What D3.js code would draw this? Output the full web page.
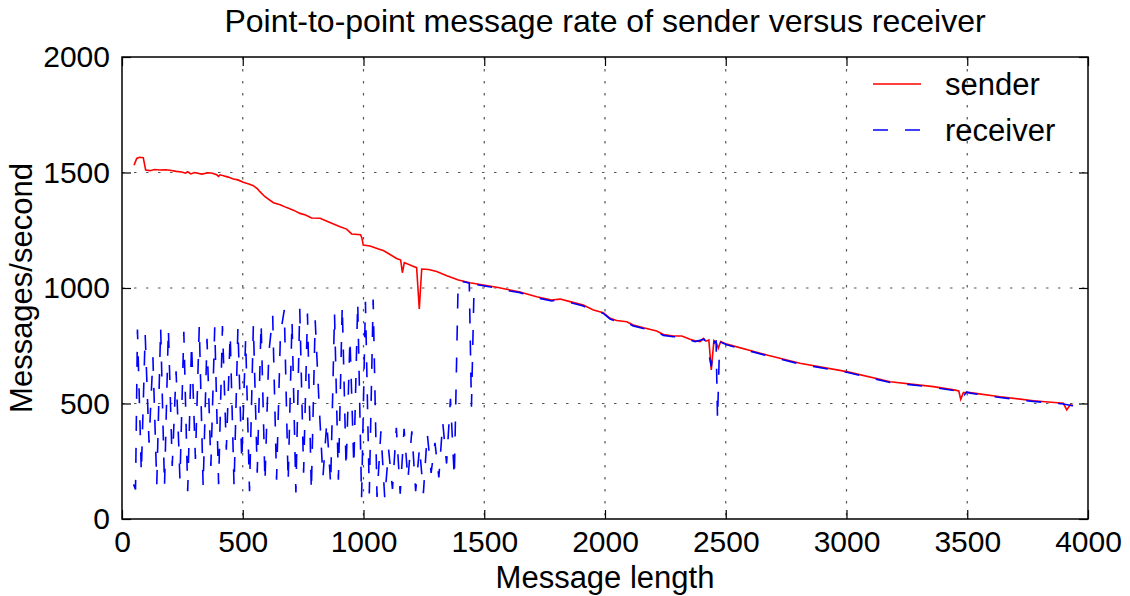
<!DOCTYPE html>
<html>
<head>
    <meta charset="utf-8">
    <title>Point-to-point message rate</title>
    <script src="https://d3js.org/d3.v7.min.js"></script>
    <style>
        body { margin: 0; background: #fff; }
        svg { font-family: "Liberation Sans", Arial, sans-serif; }
        .grid line { stroke: #555; stroke-width: 1.2; stroke-dasharray: 2.5, 9.5; }
        .axis text { font-size: 30px; fill: #000; }
        .axis line { stroke: #000; stroke-width: 1.2; }
        .axis path { display: none; }
    </style>
</head>
<body>
<div id="chart"></div>
<script>
// tick values
const xTicks = [0, 500, 1000, 1500, 2000, 2500, 3000, 3500, 4000];
const yTicks = [0, 500, 1000, 1500, 2000];

// sender: [message length, messages/second]
const senderData = [
    [50,1532],[61,1561],[72,1566],[88,1564],[98,1511],[116,1508],[135,1513],[157,1511],
    [180,1512],[199,1510],[225,1505],[247,1502],[263,1497],[272,1503],[285,1494],[300,1500],
    [330,1493],[357,1499],[375,1497],[392,1490],[400,1483],[406,1490],[420,1486],[440,1480],
    [461,1472],[480,1468],[502,1458],[525,1450],[544,1443],[560,1430],[571,1417],[592,1395],
    [627,1369],[655,1360],[682,1348],[710,1337],[737,1323],[760,1316],[785,1303],[820,1302],
    [861,1284],[903,1265],[930,1255],[951,1234],[988,1231],[993,1218],[999,1186],[1027,1182],
    [1068,1167],[1082,1162],[1110,1145],[1137,1128],[1154,1121],[1161,1066],[1169,1110],[1200,1096],
    [1220,1088],[1231,909],[1241,1082],[1270,1080],[1303,1071],[1345,1053],[1393,1035],[1441,1023],
    [1496,1013],[1552,1003],[1607,991],[1648,983],[1717,962],[1779,948],[1814,952],[1855,941],
    [1910,926],[1952,905],[1993,893],[2021,869],[2048,859],[2090,854],[2117,840],[2159,828],
    [2214,814],[2242,799],[2283,792],[2318,792],[2352,778],[2373,772],[2394,768],[2407,782],
    [2418,770],[2430,775],[2440,645],[2451,772],[2462,760],[2469,739],[2479,768],[2504,757],
    [2670,710],[2807,674],[3001,638],[3181,594],[3360,573],[3450,558],[3465,554],[3473,518],
    [3484,547],[3512,547],[3636,529],[3774,512],[3898,501],[3912,472],[3926,494],[3938,492]
];

// receiver: [message length, messages/second]
const receiverData = [
    [48,150],[56,128],[64,820],[80,200],[96,800],[112,330],[128,700],[144,150],
    [160,830],[176,140],[192,825],[208,230],[224,640],[240,170],[256,810],[272,120],
    [288,760],[304,260],[320,835],[336,140],[352,780],[368,230],[384,830],[400,150],
    [416,835],[432,300],[448,800],[464,140],[480,830],[496,250],[512,780],[528,120],
    [544,840],[560,200],[576,850],[592,160],[608,720],[624,880],[640,170],[656,800],
    [672,905],[688,160],[704,860],[720,115],[736,910],[752,200],[768,890],[784,120],
    [800,860],[816,500],[832,180],[848,420],[864,150],[880,890],[896,170],[912,925],
    [928,220],[944,780],[960,230],[976,940],[992,91],[1008,940],[1024,110],[1040,950],
    [1056,95],[1072,380],[1088,90],[1104,300],[1120,130],[1136,395],[1152,110],[1168,390],
    [1184,170],[1200,380],[1216,120],[1232,310],[1248,112],[1264,370],[1280,200],[1296,330],
    [1312,180],[1328,420],[1344,240],[1360,520],[1376,180],[1392,1030],
    [1408,1028],[1424,1025],[1438,1021],[1447,486],[1458,1016],
    [1496,1010],[1552,1000],[1607,987],[1648,980],[1717,958],[1779,944],[1814,949],[1855,937],
    [1910,922],[1952,902],[1993,890],[2021,866],[2048,855],[2090,851],[2117,836],[2159,825],
    [2214,810],[2242,795],[2283,789],[2318,789],[2352,775],[2373,768],[2394,774],[2410,778],
    [2420,752],[2432,705],[2440,660],[2452,768],[2460,770],[2466,430],[2474,745],[2480,765],
    [2504,754],[2670,707],[2807,671],[3001,635],[3181,591],[3360,570],[3450,555],[3462,546],
    [3470,530],[3478,548],[3488,538],[3498,550],[3512,545],[3636,526],[3774,509],[3898,498],
    [3930,491],[3967,486]
];

const W = 1130, H = 596;
const margin = {top: 57, right: 42, bottom: 77, left: 122};
const width = W - margin.left - margin.right;
const height = H - margin.top - margin.bottom;

const svg = d3.select("#chart")
    .append("svg")
    .attr("width", W)
    .attr("height", H);

const g = svg.append("g")
    .attr("transform", `translate(${margin.left},${margin.top})`);

const x = d3.scaleLinear().domain([0, 4000]).range([0, width]);
const y = d3.scaleLinear().domain([0, 2000]).range([height, 0]);
const fmt = d3.format("d");

// grid
const grid = g.append("g").attr("class", "grid");
grid.selectAll(".gx")
    .data(xTicks.slice(1, -1))
    .enter().append("line")
    .attr("x1", d => x(d)).attr("x2", d => x(d))
    .attr("y1", 0).attr("y2", height);
grid.selectAll(".gy")
    .data(yTicks.slice(1, -1))
    .enter().append("line")
    .attr("x1", 0).attr("x2", width)
    .attr("y1", d => y(d)).attr("y2", d => y(d));

// lines
const line = d3.line()
    .x(d => x(d[0]))
    .y(d => y(d[1]));

g.append("path")
    .datum(senderData)
    .attr("fill", "none")
    .attr("stroke", "#ff0000")
    .attr("stroke-width", 1.6)
    .attr("d", line);

g.append("path")
    .datum(receiverData)
    .attr("fill", "none")
    .attr("stroke", "#0000ff")
    .attr("stroke-width", 1.6)
    .attr("stroke-dasharray", "15,17")
    .attr("d", line);

// axes, ticks pointing inward
g.append("g")
    .attr("class", "axis")
    .attr("transform", `translate(0,${height})`)
    .call(d3.axisBottom(x).tickValues(xTicks).tickSize(-9).tickPadding(12).tickFormat(fmt));

g.append("g")
    .attr("class", "axis")
    .call(d3.axisTop(x).tickValues(xTicks).tickSize(-9).tickFormat(""));

g.append("g")
    .attr("class", "axis")
    .call(d3.axisLeft(y).tickValues(yTicks).tickSize(-9).tickPadding(12).tickFormat(fmt));

g.append("g")
    .attr("class", "axis")
    .attr("transform", `translate(${width},0)`)
    .call(d3.axisRight(y).tickValues(yTicks).tickSize(-9).tickFormat(""));

// frame
g.append("rect")
    .attr("width", width)
    .attr("height", height)
    .attr("fill", "none")
    .attr("stroke", "#000")
    .attr("stroke-width", 1.5);

// title and axis labels
svg.append("text")
    .attr("x", margin.left + width / 2)
    .attr("y", 32)
    .attr("text-anchor", "middle")
    .style("font-size", "32px")
    .text("Point-to-point message rate of sender versus receiver");

svg.append("text")
    .attr("x", margin.left + width / 2)
    .attr("y", 588)
    .attr("text-anchor", "middle")
    .style("font-size", "31px")
    .text("Message length");

svg.append("text")
    .attr("transform", "rotate(-90)")
    .attr("x", -(margin.top + height / 2))
    .attr("y", 32)
    .attr("text-anchor", "middle")
    .style("font-size", "31px")
    .text("Messages/second");

// legend
const legend = svg.append("g").attr("transform", "translate(873,84)");
const items = [
    {name: "sender", color: "#ff0000", dash: null},
    {name: "receiver", color: "#0000ff", dash: "15,17"}
];
items.forEach((it, i) => {
    legend.append("line")
        .attr("x1", 0).attr("x2", 48)
        .attr("y1", i * 46).attr("y2", i * 46)
        .attr("stroke", it.color)
        .attr("stroke-width", 1.6)
        .attr("stroke-dasharray", it.dash);
    legend.append("text")
        .attr("x", 72)
        .attr("y", i * 46)
        .attr("dy", "0.36em")
        .style("font-size", "31px")
        .text(it.name);
});
</script>
</body>
</html>
